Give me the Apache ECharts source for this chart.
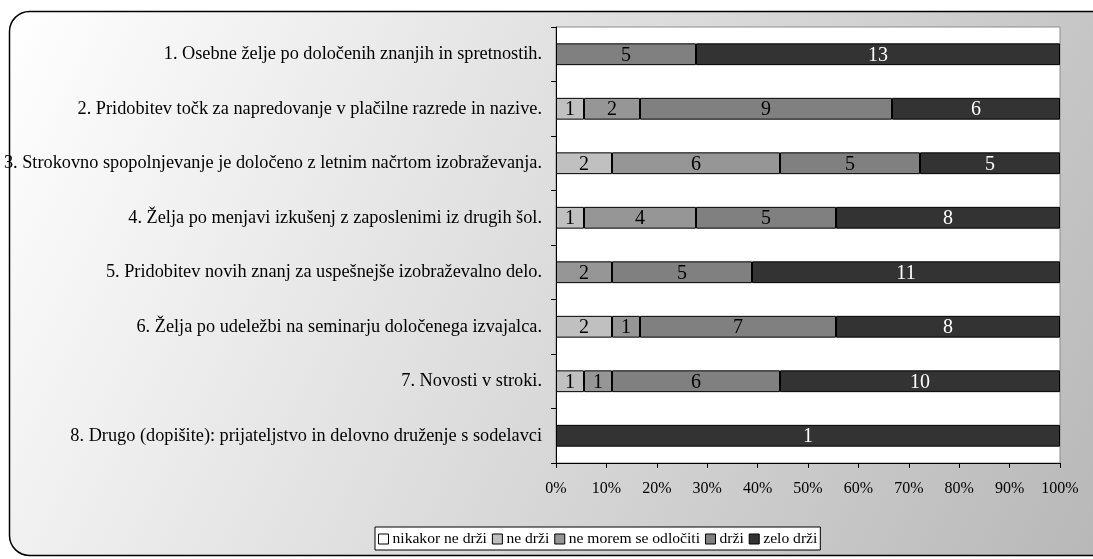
<!DOCTYPE html>
<html>
<head>
<meta charset="utf-8">
<script src="https://cdn.jsdelivr.net/npm/echarts@6/dist/echarts.min.js"></script>
<style>
  html, body { margin: 0; padding: 0; background: #fff; }
  #chart { width: 1093px; height: 559px; }
</style>
</head>
<body>
<div id="chart"></div>
<script>
// Statements (top to bottom)
const categories = [
  '1. Osebne želje po določenih znanjih in spretnostih.',
  '2. Pridobitev točk za napredovanje v plačilne razrede in nazive.',
  '3. Strokovno spopolnjevanje je določeno z letnim načrtom izobraževanja.',
  '4. Želja po menjavi izkušenj z zaposlenimi iz drugih šol.',
  '5. Pridobitev novih znanj za uspešnejše izobraževalno delo.',
  '6. Želja po udeležbi na seminarju določenega izvajalca.',
  '7. Novosti v stroki.',
  '8. Drugo (dopišite): prijateljstvo in delovno druženje s sodelavci'
];

// Number of answers per statement, one array per answer option
const nikakorNeDrzi = [0, 0, 0, 0, 0, 0, 0, 0];
const neDrzi        = [0, 1, 2, 1, 0, 2, 1, 0];
const neMorem       = [0, 2, 6, 4, 2, 1, 1, 0];
const drzi          = [5, 9, 5, 5, 5, 7, 6, 0];
const zeloDrzi      = [13, 6, 5, 8, 11, 8, 10, 1];

const seriesNames = ['nikakor ne drži', 'ne drži', 'ne morem se odločiti', 'drži', 'zelo drži'];
const axisTicks = [0, 10, 20, 30, 40, 50, 60, 70, 80, 90, 100];

const counts = [nikakorNeDrzi, neDrzi, neMorem, drzi, zeloDrzi];
const fills = ['#ffffff', '#c0c0c0', '#969696', '#808080', '#333333'];
const labelColors = ['#000', '#000', '#000', '#000', '#fff'];
const serif = '"Liberation Serif", "Times New Roman", serif';

// Row totals for the 100 % stacking
const totals = categories.map((_, i) => counts.reduce((s, arr) => s + arr[i], 0));

const series = counts.map((arr, k) => ({
  name: seriesNames[k],
  type: 'bar',
  stack: 'all',
  barCategoryGap: '60%',
  data: arr.map((v, i) => v > 0 ? { value: v / totals[i] * 100, count: v } : null),
  itemStyle: { color: fills[k], borderColor: '#000', borderWidth: 1 },
  label: {
    show: true,
    position: 'inside',
    color: labelColors[k],
    fontFamily: serif,
    fontSize: 20,
    offset: [0, 1],
    formatter: p => (p.data && p.data.count) ? String(p.data.count) : ''
  },
  emphasis: { disabled: true }
}));

const chart = echarts.init(document.getElementById('chart'), null, { renderer: 'canvas' });
chart.setOption({
  animation: false,
  backgroundColor: '#ffffff',
  graphic: [{
    type: 'rect',
    z: -1,
    shape: { x: 9.5, y: 11.5, width: 1120, height: 544, r: 20 },
    style: {
      fill: new echarts.graphic.LinearGradient(0, 0, 1, 1, [
        { offset: 0, color: '#ffffff' },
        { offset: 1, color: '#b6b6b6' }
      ]),
      stroke: '#000',
      lineWidth: 1.5
    },
    silent: true
  }],
  grid: {
    left: 556, right: 33, top: 27, bottom: 96,
    show: true,
    backgroundColor: '#ffffff',
    borderColor: '#8c8c8c',
    borderWidth: 1
  },
  legend: {
    data: seriesNames,
    left: 375,
    top: 527,
    orient: 'horizontal',
    padding: [4, 3, 3, 3],
    backgroundColor: '#ffffff',
    borderColor: '#000',
    borderWidth: 1,
    borderRadius: 0,
    itemWidth: 10,
    itemHeight: 10,
    itemGap: 5,
    icon: 'rect',
    itemStyle: { borderColor: '#000', borderWidth: 1 },
    textStyle: { fontFamily: serif, fontSize: 15.6, color: '#000', padding: [0, 0, 0, -1] },
    selectedMode: false
  },
  xAxis: {
    type: 'value',
    min: axisTicks[0],
    max: axisTicks[axisTicks.length - 1],
    interval: axisTicks[1] - axisTicks[0],
    axisLine: { show: true, lineStyle: { color: '#000', width: 1 } },
    axisTick: { show: true, length: 5, lineStyle: { color: '#000' } },
    splitLine: { show: false },
    axisLabel: {
      formatter: '{value}%',
      fontFamily: serif,
      fontSize: 16,
      color: '#000',
      margin: 18
    }
  },
  yAxis: {
    type: 'category',
    inverse: true,
    data: categories,
    axisLine: { show: true, lineStyle: { color: '#000', width: 1 } },
    axisTick: { show: true, length: 5, interval: 0, lineStyle: { color: '#000' } },
    axisLabel: {
      fontFamily: serif,
      fontSize: 18.3,
      color: '#000',
      margin: 14,
      interval: 0
    }
  },
  series: series
});
</script>
</body>
</html>
